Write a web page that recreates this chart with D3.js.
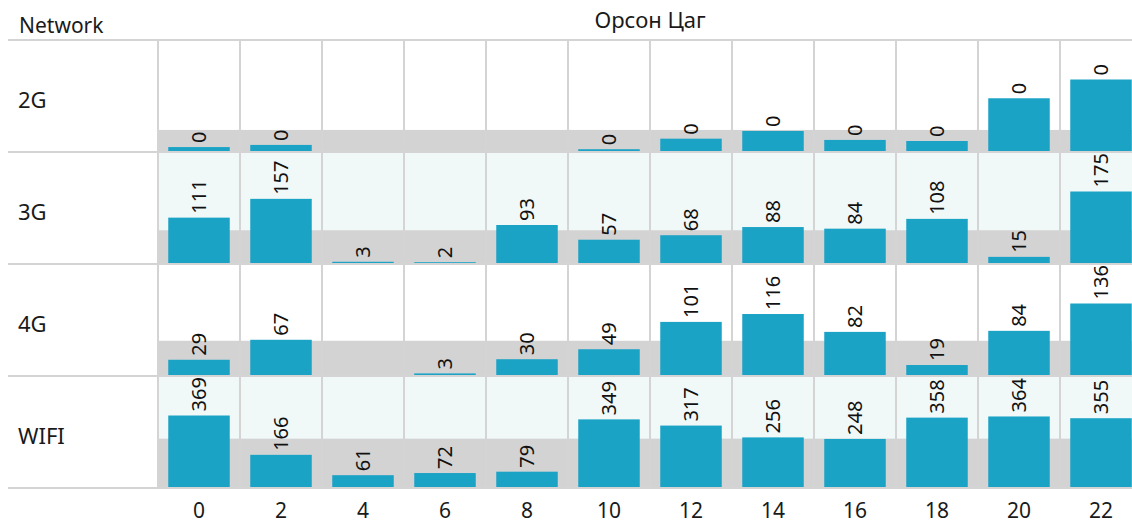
<!DOCTYPE html>
<html lang="mn">
<head>
<meta charset="UTF-8">
<script src="https://d3js.org/d3.v7.min.js"></script>
<style>
  body { margin: 0; background: #fff; }
  svg text { font-family: "Noto Sans", "Open Sans", sans-serif; fill: #1a1a1a; }
</style>
</head>
<body>
<div id="chart"></div>
<script>
// data
const hours = [0, 2, 4, 6, 8, 10, 12, 14, 16, 18, 20, 22];
const networks = ["2G", "3G", "4G", "WIFI"];
const values2G = [0.022, 0.034, null, null, null, 0.01, 0.069, 0.112, 0.062, 0.056, 0.295, 0.4];
const values3G = [111, 157, 3, 2, 93, 57, 68, 88, 84, 108, 15, 175];
const values4G = [29, 67, null, 3, 30, 49, 101, 116, 82, 19, 84, 136];
const valuesWIFI = [369, 166, 61, 72, 79, 349, 317, 256, 248, 358, 364, 355];
const seriesList = [values2G, values3G, values4G, valuesWIFI];

const W = 1132, H = 524;
const plotLeft = 158, colW = 82;
const plotTop = 40, plotBottom = 488;
const barMax = 71.5;

const svg = d3.select("#chart").append("svg")
  .attr("width", W).attr("height", H);

const x = d3.scaleBand()
  .domain(hours)
  .range([plotLeft, plotLeft + colW * hours.length])
  .paddingInner(0.25)
  .paddingOuter(0.125);

const cols = d3.scaleBand()
  .domain(hours)
  .range([plotLeft, plotLeft + colW * hours.length]);

const rows = d3.scaleBand()
  .domain(networks)
  .range([plotTop, plotBottom]);

const fmt = d3.format(".0f");

// headers
svg.append("text")
  .attr("x", 19).attr("y", 33)
  .attr("font-size", 21)
  .text("Network");

svg.append("text")
  .attr("x", (plotLeft + plotLeft + colW * hours.length) / 2)
  .attr("y", 28)
  .attr("text-anchor", "middle")
  .attr("font-size", 22)
  .text("Орсон Цаг");

networks.forEach((net, i) => {
  const vals = seriesList[i];
  const rTop = rows(net);
  const rBot = rTop + rows.bandwidth();
  const y = d3.scaleLinear()
    .domain([0, d3.max(vals)])
    .range([rBot - 1, rBot - 1 - barMax]);
  const g = svg.append("g");

  if (i % 2 == 1) {
    g.append("rect")
      .attr("x", plotLeft).attr("y", rTop)
      .attr("width", W - plotLeft).attr("height", rBot - rTop)
      .attr("fill", "#f0f8f8");
  }

  // grey band = row average
  const avg = d3.mean(vals.filter(v => v != null));
  g.append("rect")
    .attr("x", plotLeft).attr("y", y(avg))
    .attr("width", W - plotLeft).attr("height", rBot - y(avg))
    .attr("fill", "#d3d3d3");

  g.append("text")
    .attr("x", 18).attr("y", (rTop + rBot) / 2 + 12)
    .attr("font-size", 22)
    .text(net);

  const data = hours.map((h, j) => ({ h: h, v: vals[j] })).filter(d => d.v != null);

  g.selectAll("rect.bar")
    .data(data)
    .join("rect")
    .attr("class", "bar")
    .attr("x", d => x(d.h))
    .attr("y", d => y(d.v))
    .attr("width", x.bandwidth())
    .attr("height", d => y(0) - y(d.v))
    .attr("fill", "#1ba3c6");

  g.selectAll("text.lbl")
    .data(data)
    .join("text")
    .attr("class", "lbl")
    .attr("transform", d => `translate(${x(d.h) + x.bandwidth() / 2},${y(d.v) - 4}) rotate(-90)`)
    .attr("dy", "0.36em")
    .attr("font-size", 20)
    .style("fill", "#111")
    .text(d => fmt(d.v));
});

// grid lines
svg.selectAll("line.v")
  .data(hours)
  .join("line")
  .attr("class", "v")
  .attr("x1", d => cols(d)).attr("x2", d => cols(d))
  .attr("y1", plotTop).attr("y2", plotBottom)
  .attr("stroke", "#d4d4d4").attr("stroke-width", 2);

svg.selectAll("line.h")
  .data(networks.map(n => rows(n)).concat([plotBottom]))
  .join("line")
  .attr("class", "h")
  .attr("x1", 8).attr("x2", W)
  .attr("y1", d => d).attr("y2", d => d)
  .attr("stroke", "#d4d4d4").attr("stroke-width", 2);

// x axis labels
svg.selectAll("text.tick")
  .data(hours)
  .join("text")
  .attr("class", "tick")
  .attr("x", d => cols(d) + cols.bandwidth() / 2)
  .attr("y", 518)
  .attr("text-anchor", "middle")
  .attr("font-size", 21)
  .text(d => d);
</script>
</body>
</html>
